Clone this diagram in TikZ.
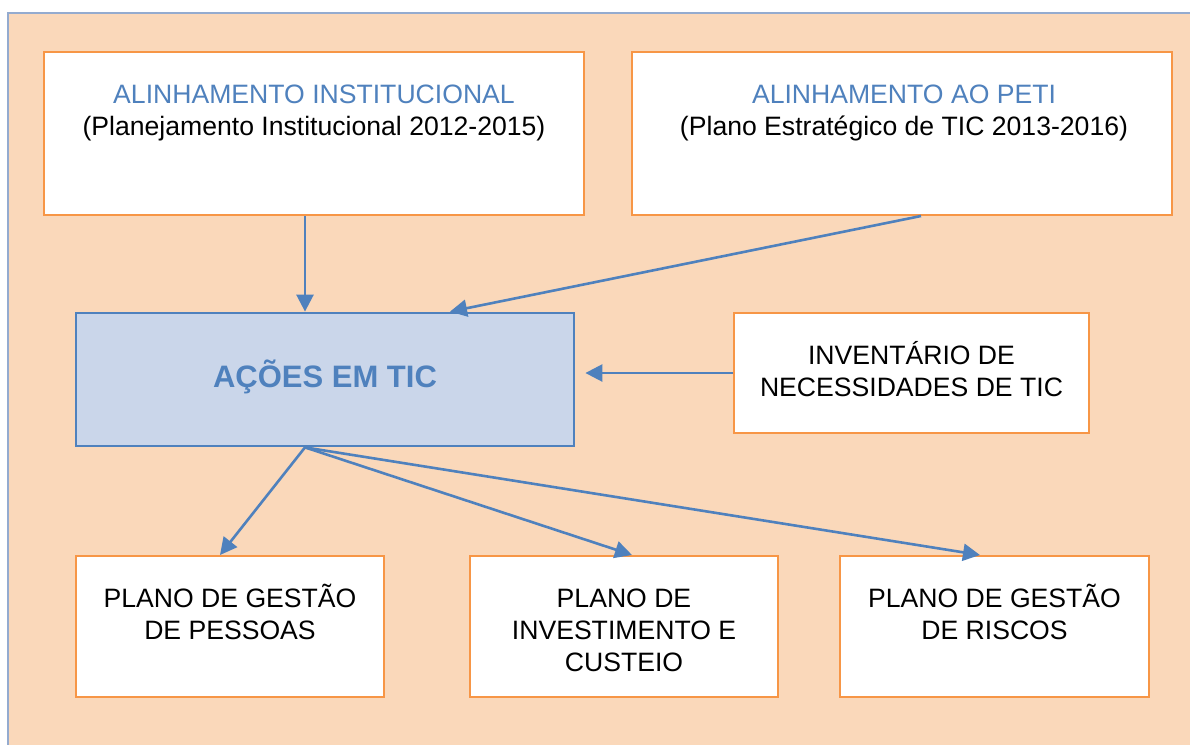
\documentclass[tikz,border=0pt]{standalone}
\usepackage{fontspec}
\setmainfont{Liberation Sans}
\usetikzlibrary{arrows.meta,calc}

\definecolor{peach}{HTML}{FAD8BA}
\definecolor{frameblue}{HTML}{94ABCF}
\definecolor{boxorange}{HTML}{F79646}
\definecolor{arrblue}{HTML}{4F81BD}
\definecolor{lightblue}{HTML}{CAD6EA}

\begin{document}
\begin{tikzpicture}[x=0.5pt,y=-0.5pt,
    box/.style={draw=boxorange,line width=1pt,fill=white,inner sep=0pt},
    txt/.style={anchor=base,align=center,inner sep=0pt,font=\fontsize{13.3}{16}\selectfont},
    arr/.style={draw=arrblue,line width=1.3pt,-{Triangle[length=8.5pt,width=8.5pt]}}]
                    \useasboundingbox (0,0) rectangle (1190,745);
                    \draw[frameblue,line width=1pt,fill=peach] (8,13) rectangle (1210,770);
                    % boxes
                    \node[box,minimum width=270pt,minimum height=81.5pt] (inst) at (314,133.5) {};
                    \node[box,minimum width=270pt,minimum height=81.5pt] (peti) at (902,133.5) {};
                    \node[draw=arrblue,line width=1.4pt,fill=lightblue,minimum width=249pt,minimum height=66.5pt] (acoes) at (325,379.5) {};
                    \node[box,minimum width=177.5pt,minimum height=60pt] (inv) at (911.5,373) {};
                    \node[box,minimum width=154pt,minimum height=70.5pt] (pessoas) at (230,626.5) {};
                    \node[box,minimum width=154pt,minimum height=70.5pt] (invest) at (624,626.5) {};
                    \node[box,minimum width=154.5pt,minimum height=70.5pt] (riscos) at (994.5,626.5) {};
                    % texts (base = last line)
                    \node[txt] (instT) at (314,135) {\textcolor{arrblue}{ALINHAMENTO INSTITUCIONAL}\\(Planejamento Institucional 2012-2015)};
                    \node[txt] (petiT) at (904,135) {\textcolor{arrblue}{ALINHAMENTO AO PETI}\\(Plano Estratégico de TIC 2013-2016)};
                    \node[anchor=base,inner sep=0pt,text=arrblue,font=\fontsize{15.5}{18}\selectfont\bfseries] (acoesT) at (325,387) {AÇÕES EM TIC};
                    \node[txt] (invT) at (911.5,396) {INVENTÁRIO DE\\NECESSIDADES DE TIC};
                    \node[txt] (pessoasT) at (230,639) {PLANO DE GESTÃO\\DE PESSOAS};
                    \node[txt] (investT) at (624,671) {PLANO DE\\INVESTIMENTO E\\CUSTEIO};
                    \node[txt] (riscosT) at (994.5,639) {PLANO DE GESTÃO\\DE RISCOS};
                    % arrows
                    \draw[arr] ($(inst.south)+(-9,0)$) -- ($(acoes.north)+(-20,0)$);
                    \draw[arr] ($(peti.south)+(19,0)$) -- ($(acoes.north)+(125,0)$);
                    \draw[arr] (inv.west) -- ($(acoes.east |- inv.west)+(10,0)$);
                    \coordinate (hub) at ($(acoes.south)+(-20,0)$);
                    \draw[arr] (hub) -- ($(pessoas.north)+(-10,0)$);
                    \draw[arr] (hub) -- ($(invest.north)+(8,0)$);
                    \draw[arr] (hub) -- ($(riscos.north)+(-14.5,0)$);
            \end{tikzpicture}
\end{document}
